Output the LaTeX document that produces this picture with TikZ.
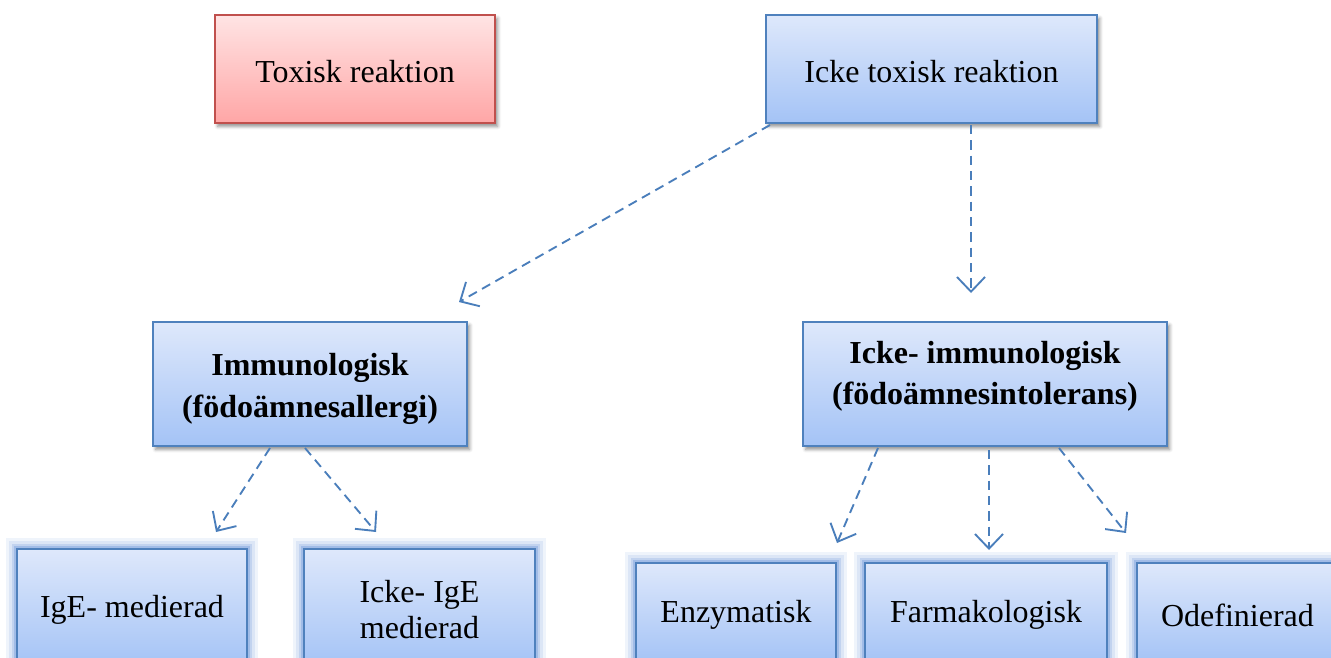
\documentclass[tikz,border=0pt]{standalone}
\usepackage{fontspec}
\setmainfont{Liberation Serif}
\usetikzlibrary{arrows.meta,shadows.blur}
\definecolor{bordblue}{RGB}{79,129,189}
\definecolor{topblue}{RGB}{222,232,251}
\definecolor{botblue}{RGB}{164,195,246}
\definecolor{bordred}{RGB}{192,80,77}
\definecolor{topred}{RGB}{255,228,228}
\definecolor{botred}{RGB}{255,166,166}
\definecolor{arrblue}{RGB}{74,126,187}
\definecolor{glowblue}{RGB}{100,145,215}
\tikzset{
  boxbase/.style={rectangle, line width=1.5pt, inner sep=0pt, font=\fontsize{24}{27}\selectfont, align=center},
  bluebox/.style={boxbase, draw=bordblue, top color=topblue, bottom color=botblue},
  redbox/.style={boxbase, draw=bordred, top color=topred, bottom color=botred},
  dshadow/.style={blur shadow={shadow xshift=2pt, shadow yshift=-2.5pt, shadow blur radius=2.5pt, shadow opacity=45}},
  glow/.style={
    preaction={draw=glowblue, line width=16pt, draw opacity=0.10, rounded corners=6pt},
    preaction={draw=glowblue, line width=12pt, draw opacity=0.14, rounded corners=4pt},
    preaction={draw=glowblue, line width=8pt, draw opacity=0.22, rounded corners=2pt},
    preaction={draw=glowblue, line width=4.5pt, draw opacity=0.35}},
  btext/.style={font=\fontsize{24}{31}\bfseries\selectfont, align=center, inner sep=0pt},
  arr/.style={draw=arrblue, line width=1.4pt, dash pattern=on 7pt off 4.5pt,
    -{Straight Barb[length=11pt,width=21pt,line width=1.4pt]}}
}
\begin{document}
\begin{tikzpicture}[x=0.75pt,y=-0.75pt]
\useasboundingbox (0,0) rectangle (1331,657);
\clip (0,0) rectangle (1331,657);
% top
\node[redbox, dshadow, minimum width=210pt, minimum height=81pt] (tox) at (355,69) {};
\node[inner sep=0pt, font=\fontsize{24}{27}\selectfont] (toxt) at (355,72) {Toxisk reaktion};
\node[bluebox, dshadow, minimum width=248.25pt, minimum height=81pt] (itox) at (931.5,69) {};
\node[inner sep=0pt, font=\fontsize{24}{27}\selectfont] (itoxt) at (931.5,72) {Icke toxisk reaktion};
% middle
\node[bluebox, dshadow, minimum width=235.5pt, minimum height=93pt] (imm) at (310,384) {};
\node[btext] (immt) at (310,389) {Immunologisk\\(födoämnesallergi)};
\node[bluebox, dshadow, minimum width=273pt, minimum height=93pt] (iimm) at (985,384) {};
\node[btext] (iimmt) at (985,376) {Icke- immunologisk\\(födoämnesintolerans)};
% bottom
\node[bluebox, glow, minimum width=172.5pt, minimum height=88.5pt] (ige) at (132,608) {};
\node[inner sep=0pt, font=\fontsize{24}{27}\selectfont] (iget) at (132,610) {IgE- medierad};
\node[bluebox, glow, minimum width=173.25pt, minimum height=88.5pt] (iige) at (419.5,608) {};
\node[inner sep=0pt, font=\fontsize{24}{27}\selectfont, align=center] (iiget) at (419.5,610) {Icke- IgE\\medierad};
\node[bluebox, glow, minimum width=150pt, minimum height=75pt] (enz) at (736,613) {};
\node[inner sep=0pt, font=\fontsize{24}{27}\selectfont] (enzt) at (736,615) {Enzymatisk};
\node[bluebox, glow, minimum width=181.5pt, minimum height=75pt] (farm) at (986,613) {};
\node[inner sep=0pt, font=\fontsize{24}{27}\selectfont] (farmt) at (986,615) {Farmakologisk};
\node[bluebox, glow, minimum width=150.75pt, minimum height=75pt] (odef) at (1237.5,613) {};
\node[inner sep=0pt, font=\fontsize{24}{27}\selectfont] (odeft) at (1237.5,615) {Odefinierad};
% connector coordinates
\coordinate (s1) at (770,125);
\coordinate (e1) at (459,302);
\coordinate (s2) at (971,125);
\coordinate (e2) at (971,293);
\coordinate (s3) at (270,448);
\coordinate (e3) at (216,532);
\coordinate (s4) at (305,448);
\coordinate (e4) at (376,532);
\coordinate (s5) at (878,448);
\coordinate (e5) at (837,543);
\coordinate (s6) at (989,450);
\coordinate (e6) at (989,550);
\coordinate (s7) at (1059,448);
\coordinate (e7) at (1126,533);
\draw[arr] (s1) -- (e1);
\draw[arr] (s2) -- (e2);
\draw[arr] (s3) -- (e3);
\draw[arr] (s4) -- (e4);
\draw[arr] (s5) -- (e5);
\draw[arr] (s6) -- (e6);
\draw[arr] (s7) -- (e7);
\end{tikzpicture}
\end{document}
